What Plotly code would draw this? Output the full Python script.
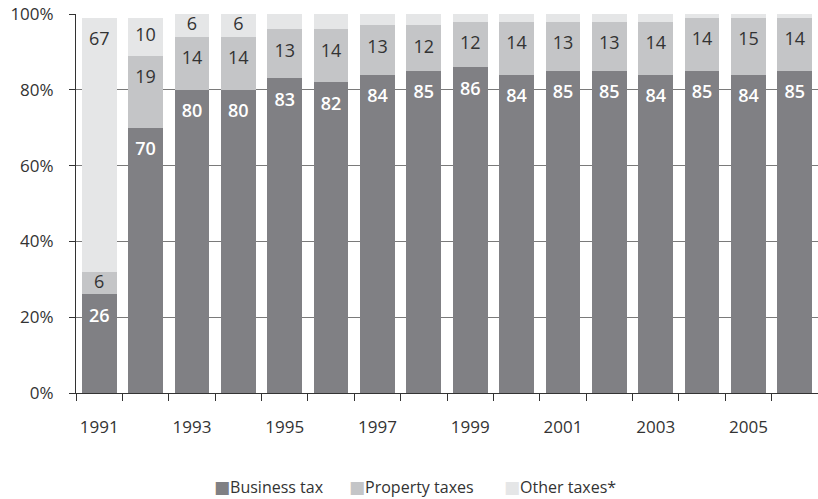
import plotly.graph_objects as go

# Share of municipal tax revenue by source, in percent
years = [str(y) for y in range(1991, 2007)]
business_tax = [26, 70, 80, 80, 83, 82, 84, 85, 86, 84, 85, 85, 84, 85, 84, 85]
property_taxes = [6, 19, 14, 14, 13, 14, 13, 12, 12, 14, 13, 13, 14, 14, 15, 14]
other_taxes = [67, 10, 6, 6, 4, 4, 3, 3, 2, 2, 2, 2, 2, 1, 1, 1]
# values of the "other" segment that carry a printed label
other_labelled = [True, True, True, True] + [False] * 12

tick_text = [y if int(y) % 2 == 1 else "" for y in years]

C_BUS = "#808084"
C_PROP = "#c4c5c7"
C_OTHER = "#e5e6e7"
FONT = "Open Sans"
TXT = "#333333"

series = [("Business tax", business_tax, C_BUS),
          ("Property taxes", property_taxes, C_PROP),
          ("Other taxes*", other_taxes, C_OTHER)]

fig = go.Figure()
for name, vals, col in series:
    fig.add_trace(go.Bar(x=years, y=vals, name=name, marker_color=col,
                         marker_line_width=0, hoverinfo="skip", showlegend=False))

# label placement: a fixed distance under each segment's top,
# or the segment middle when the segment is short
OFF = 6.1


def label_y(base, val):
    return base + val - min(OFF, val / 2)


bus_y = [label_y(0, b) for b in business_tax]
prop_y = [label_y(b, p) for b, p in zip(business_tax, property_taxes)]
oth_y = [label_y(b + p, o) for b, p, o in zip(business_tax, property_taxes, other_taxes)]

LBL = 18
fig.add_trace(go.Scatter(x=years, y=bus_y, mode="text",
                         text=[str(v) for v in business_tax],
                         textfont=dict(family=FONT, size=LBL, color="white", weight=600),
                         showlegend=False, hoverinfo="skip", cliponaxis=False))
fig.add_trace(go.Scatter(x=years, y=prop_y, mode="text",
                         text=[str(v) for v in property_taxes],
                         textfont=dict(family=FONT, size=LBL, color=TXT),
                         showlegend=False, hoverinfo="skip", cliponaxis=False))
oth_x = [y for y, show in zip(years, other_labelled) if show]
oth_yy = [v for v, show in zip(oth_y, other_labelled) if show]
oth_t = [str(v) for v, show in zip(other_taxes, other_labelled) if show]
fig.add_trace(go.Scatter(x=oth_x, y=oth_yy, mode="text", text=oth_t,
                         textfont=dict(family=FONT, size=LBL, color=TXT),
                         showlegend=False, hoverinfo="skip", cliponaxis=False))

# legend row under the chart: colour square followed by the series name
legend_x = [212, 347, 502]
for (name, _, col), px in zip(series, legend_x):
    fig.add_annotation(
        xref="paper", yref="paper", x=(px - 76) / 742, y=(393 - 487) / 379,
        xanchor="left", yanchor="middle", showarrow=False,
        text=f"<span style='color:{col};font-family:DejaVu Sans;font-size:17px'>■</span>{name}",
        font=dict(family=FONT, size=16, color=TXT))

fig.update_layout(
    width=818, height=499,
    margin=dict(l=76, r=0, t=14, b=106, autoexpand=False),
    barmode="stack", bargap=0.25,
    plot_bgcolor="white", paper_bgcolor="white",
    font=dict(family=FONT, size=16, color=TXT),
    showlegend=False,
    xaxis=dict(type="category", tickson="boundaries", ticks="outside", ticklen=7,
               range=[-0.5, len(years) - 0.5],
               tickcolor="#333333", tickvals=years, ticktext=tick_text, tickangle=0,
               showline=True, linecolor="#333333", linewidth=1, showgrid=False,
               automargin=False, ticklabelstandoff=19,
               tickfont=dict(size=17, color=TXT)),
    yaxis=dict(range=[0, 100], dtick=20, ticksuffix="%", ticks="outside", ticklen=6,
               tickcolor="#333333", showline=True, linecolor="#333333", linewidth=1,
               showgrid=True, gridcolor="#7a7a7a", gridwidth=1, zeroline=False,
               automargin=False, ticklabelstandoff=12,
               tickfont=dict(size=17, color=TXT)),
)

fig.write_html("out.html")
